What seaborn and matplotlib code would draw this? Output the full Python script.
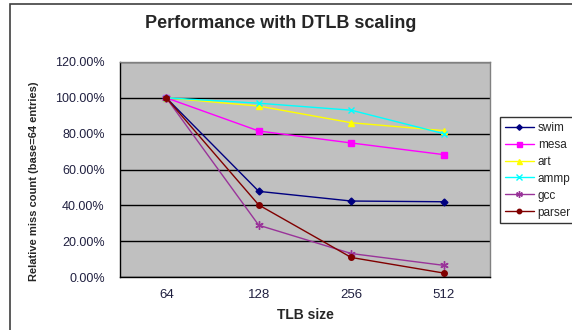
import numpy as np
import pandas as pd
import matplotlib
matplotlib.use("Agg")
import matplotlib.pyplot as plt
import seaborn as sns
from matplotlib.ticker import FuncFormatter
from matplotlib.patches import Rectangle

# data (relative miss count, base = 64 entries)
tlb_sizes = ["64", "128", "256", "512"]
benchmarks = ["swim", "mesa", "art", "ammp", "gcc", "parser"]
swim = [1.00, 0.478, 0.424, 0.420]
mesa = [1.00, 0.815, 0.748, 0.683]
art = [1.00, 0.954, 0.861, 0.817]
ammp = [1.00, 0.970, 0.931, 0.800]
gcc = [1.00, 0.289, 0.131, 0.065]
parser = [1.00, 0.402, 0.109, 0.022]

colors = {"swim": "#000080", "mesa": "#FF00FF", "art": "#FFFF00",
          "ammp": "#00FFFF", "gcc": "#993399", "parser": "#800000"}
markers = {"swim": "D", "mesa": "s", "art": "^", "ammp": "x",
           "gcc": (6, 2, 0), "parser": "o"}
msizes = {"swim": 3.5, "mesa": 4.5, "art": 4.5, "ammp": 5, "gcc": 6, "parser": 4}

series = dict(zip(benchmarks, [swim, mesa, art, ammp, gcc, parser]))
rows = []
for name, vals in series.items():
    for i, v in enumerate(vals):
        rows.append({"pos": i, "TLB size": tlb_sizes[i], "bench": name, "value": v})
df = pd.DataFrame(rows)

sns.set_style("white")
plt.rcParams["font.family"] = ["Liberation Sans", "DejaVu Sans"]

fig = plt.figure(figsize=(5.72, 3.30), dpi=100)
fig.patch.set_facecolor("white")

# outer chart border
fig.patches.append(Rectangle((10 / 572, -0.1), 1.2, (330 - 4) / 330 + 0.1,
                             transform=fig.transFigure, fill=False,
                             edgecolor="#404040", linewidth=1.2))

ax = fig.add_axes([120 / 572, 1 - 277 / 330, 370 / 572, 215 / 330])
ax.set_facecolor("#C0C0C0")

for name in benchmarks:
    sub = df[df["bench"] == name]
    sns.lineplot(data=sub, x="pos", y="value", ax=ax, color=colors[name],
                 marker=markers[name], markersize=msizes[name],
                 markeredgecolor=colors[name], markerfacecolor=colors[name],
                 markeredgewidth=1, linewidth=1, label=name, legend=False)

ax.set_xlim(-0.5, 3.5)
ax.set_ylim(0, 1.2)
ax.set_yticks(np.arange(0, 1.21, 0.2))
ax.yaxis.set_major_formatter(FuncFormatter(lambda v, p: f"{v * 100:.2f}%"))
ax.set_xticks(range(4))
ax.set_xticklabels(tlb_sizes)
ax.set_xticks(np.arange(-0.5, 3.6, 1), minor=True)
ax.tick_params(axis="x", which="major", length=0, pad=9, labelsize=9.5, labelcolor="#202040")
ax.tick_params(axis="x", which="minor", length=4, width=1, color="black", direction="out")
ax.tick_params(axis="y", length=5, width=1, color="black", direction="out",
               labelsize=9, labelcolor="#202040", pad=6)
ax.grid(axis="y", color="black", linewidth=1)
ax.set_axisbelow(True)
for side in ["top", "right"]:
    ax.spines[side].set_color("#808080")
    ax.spines[side].set_linewidth(1)
for side in ["left", "bottom"]:
    ax.spines[side].set_color("black")
    ax.spines[side].set_linewidth(1)

ax.set_xlabel("TLB size", fontsize=10, fontweight="bold", labelpad=5)
ax.set_ylabel("Relative miss count (base=64 entries)", fontsize=8, fontweight="bold")
ax.yaxis.set_label_coords((39 - 120) / 370, (277 - 181) / 215)
fig.text(281 / 572, 1 - 24 / 330, "Performance with DTLB scaling", ha="center", va="center",
         fontsize=13, fontweight="bold")

handles, labels = ax.get_legend_handles_labels()
leg = fig.legend(handles, labels, loc="upper left", bbox_to_anchor=(500 / 572, 1 - 117 / 330),
                 frameon=True, fontsize=8.5, handlelength=2.5, borderpad=0.4,
                 labelspacing=0.42, fancybox=False, borderaxespad=0, handletextpad=0.3,
                 markerscale=0.8)
leg.get_frame().set_edgecolor("black")
leg.get_frame().set_linewidth(1)

fig.savefig("out.png", dpi=100)
